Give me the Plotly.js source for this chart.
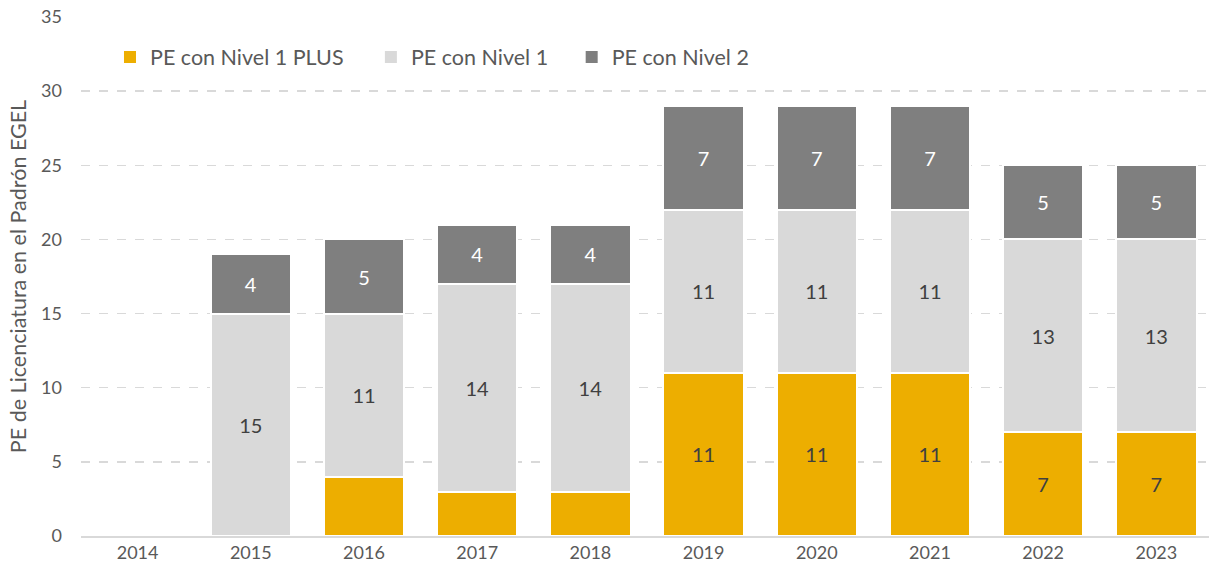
<!DOCTYPE html>
<html>
<head>
<meta charset="utf-8">
<script src="https://cdn.plot.ly/plotly-3.0.1.min.js"></script>
<style>html,body{margin:0;padding:0;background:#fff;}#chart{width:1209px;height:573px;}</style>
</head>
<body>
<div id="chart"></div>
<script>
var years = ["2014","2015","2016","2017","2018","2019","2020","2021","2022","2023"];
var nivel1Plus = [0,0,4,3,3,11,11,11,7,7];
var nivel1 = [0,15,11,14,14,11,11,11,13,13];
var nivel2 = [0,4,5,4,4,7,7,7,5,5];
var nivel1PlusLabels = ["","","","","","11","11","11","7","7"];
var nivel1Labels = ["","15","11","14","14","11","11","11","13","13"];
var nivel2Labels = ["","4","5","4","4","7","7","7","5","5"];

var font = "Lato, 'Open Sans', sans-serif";
function mk(name, y, txt, color, tcolor, leg){
  return {
    type:'bar', name:name, x:years, y:y, text:txt,
    textposition:'inside', insidetextanchor:'middle', textangle:0,
    constraintext:'none',
    textfont:{family:font, size:20, color:tcolor},
    marker:{color:color, line:{color:'#ffffff', width:y.map(function(v){return v>0?2:0;})}},
    width:0.71, hoverinfo:'skip', legend:leg
  };
}
var data = [
  mk('PE con Nivel 1 PLUS', nivel1Plus, nivel1PlusLabels, '#EDAE00', '#404040', 'legend'),
  mk('PE con Nivel 1', nivel1, nivel1Labels, '#D9D9D9', '#404040', 'legend2'),
  mk('PE con Nivel 2', nivel2, nivel2Labels, '#7F7F7F', '#ffffff', 'legend3')
];
function leg(x){
  return {orientation:'h', x:x, xanchor:'left', y:0.923, yanchor:'middle',
    font:{family:font, size:21.5, color:'#595959'}, bgcolor:'rgba(0,0,0,0)', itemwidth:30};
}
var layout = {
  width:1209, height:573,
  margin:{l:81, r:0, t:17, b:37},
  barmode:'stack',
  paper_bgcolor:'#ffffff', plot_bgcolor:'#ffffff',
  font:{family:font, color:'#595959'},
  showlegend:true,
  legend:leg(0.0257), legend2:leg(0.257), legend3:leg(0.435),
  xaxis:{type:'category', range:[-0.5, 9.465], tickfont:{family:font, size:18, color:'#595959'},
    showgrid:false, showline:true, linecolor:'#D9D9D9', linewidth:1.5, ticks:'', ticklen:0},
  yaxis:{range:[0,35], dtick:5, tickfont:{family:font, size:18, color:'#595959'},
    showgrid:true, gridcolor:'#D9D9D9', griddash:'dash', gridwidth:1.5,
    zeroline:false, showline:false, ticks:'', ticklabelstandoff:18,
    title:{text:'PE de Licenciatura en el Padrón EGEL', font:{family:font, size:21.5, color:'#595959'}, standoff:8}}
};
Plotly.newPlot('chart', data, layout, {displayModeBar:false, staticPlot:true});
</script>
</body>
</html>
